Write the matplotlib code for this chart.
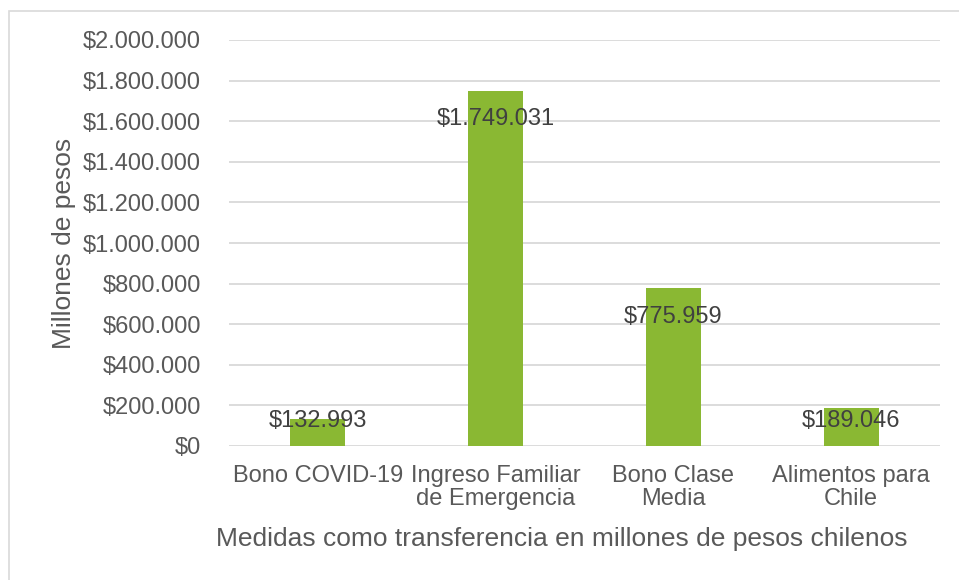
import matplotlib.pyplot as plt
from matplotlib.patches import Rectangle

categories = ['Bono COVID-19', 'Ingreso Familiar\nde Emergencia', 'Bono Clase\nMedia', 'Alimentos para\nChile']
values = [132993, 1749031, 775959, 189046]
yticks = [0, 200000, 400000, 600000, 800000, 1000000, 1200000, 1400000, 1600000, 1800000, 2000000]

GREEN = '#8AB833'
TEXT = '#595959'
GRID = '#D9D9D9'


def peso(v):
    return '$' + f'{v:,.0f}'.replace(',', '.')


plt.rcParams['font.family'] = ['Liberation Sans', 'DejaVu Sans']

fig = plt.figure(figsize=(9.59, 5.80), dpi=100)
# light frame around the whole chart, like the Excel chart area
fig.patches.append(Rectangle((9 / 959, -0.1), 1.2, 1 - 11 / 580 + 0.1,
                             transform=fig.transFigure, fill=False,
                             edgecolor=GRID, linewidth=1.2))

ax = fig.add_axes([229 / 959, 1 - 446 / 580, 711 / 959, 406 / 580])
x = range(len(values))
ax.bar(x, values, width=0.31, color=GREEN, zorder=3)

ax.set_xlim(-0.5, len(values) - 0.5)
ax.set_ylim(0, 2000000)
ax.set_yticks(yticks)
ax.set_yticklabels([peso(v) for v in yticks])
ax.set_xticks(list(x))
ax.set_xticklabels(categories, linespacing=1.05)

ax.tick_params(axis='y', length=0, pad=20, labelsize=17, labelcolor=TEXT)
ax.tick_params(axis='x', length=0, pad=14, labelsize=17, labelcolor=TEXT)
ax.grid(axis='y', color=GRID, linewidth=1.3, zorder=0)
for s in ax.spines.values():
    s.set_visible(False)

# data labels, inside end of each bar (pushed up for the short bars)
for i, v in enumerate(values):
    ly = max(v - 140000, 123000)
    ax.text(i, ly, peso(v), ha='center', va='center', fontsize=17,
            color='#404040', zorder=4)

ax.set_ylabel('Millones de pesos', fontsize=19, color=TEXT)
ax.yaxis.set_label_coords(-(229 - 76) / 711, 0.5)
ax.set_xlabel('Medidas como transferencia en millones de pesos chilenos',
              fontsize=19, color=TEXT, va='center')
ax.xaxis.set_label_coords((562 - 229) / 711, -(539 - 446) / 406)

fig.savefig('out.png', dpi=100)
